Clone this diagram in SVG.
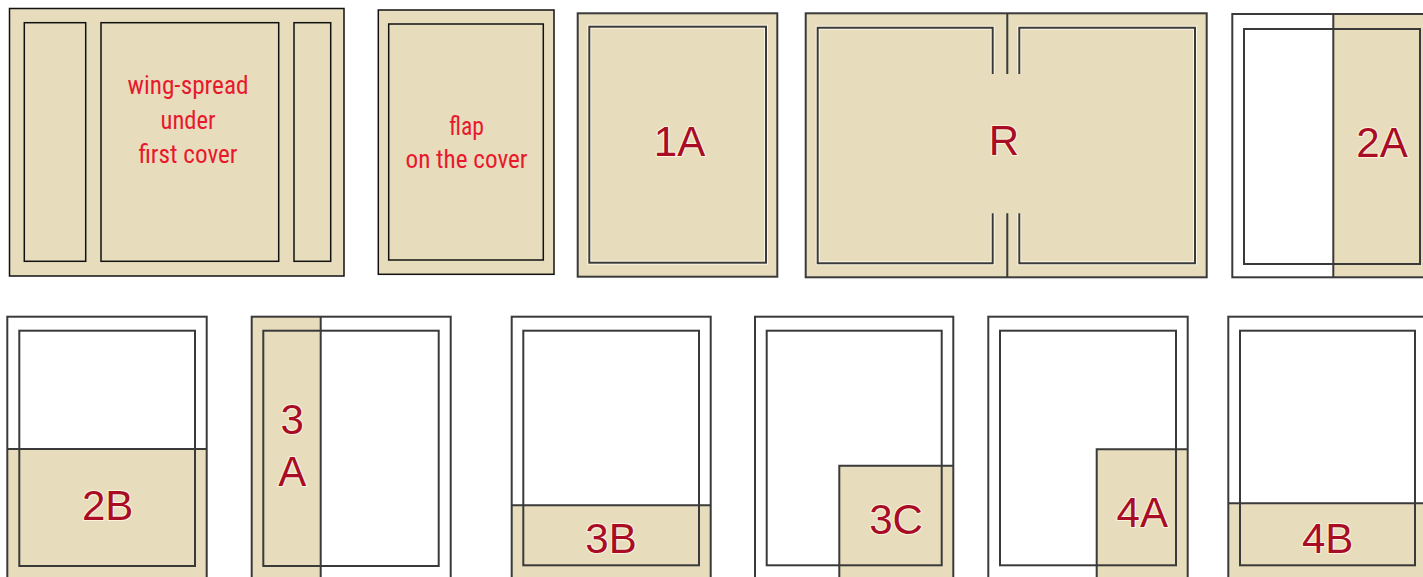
<svg xmlns="http://www.w3.org/2000/svg" width="1423" height="577" viewBox="0 0 1423 577">
<style>
.bg{fill:#ffffff}
.beige{fill:#e7ddbd}
.dk{fill:none;stroke:#111111;stroke-width:1.5}
.halo{fill:none;stroke:#fbf6e4;stroke-width:4}
.ln{fill:none;stroke:#3a3a3a;stroke-width:2}
.red{font-family:"Liberation Sans Narrow","Roboto Condensed","Liberation Sans",sans-serif;font-size:25px;fill:#e8192c;text-anchor:middle}
.lbl{font-family:"Liberation Sans",Arial,sans-serif;font-size:42px;fill:#a80d25;text-anchor:middle;stroke:#fbf3dc;stroke-width:2.2;paint-order:stroke;stroke-linejoin:round}
</style>
<rect class="bg" x="0" y="0" width="1423" height="577"/>

<g id="wing-spread">
<rect class="beige" x="9.5" y="8.5" width="334.5" height="267.5"/>
<rect class="dk" x="9.5" y="8.5" width="334.5" height="267.5"/>
<rect class="dk" x="24.3" y="22.7" width="61.4" height="238.6"/>
<rect class="dk" x="101" y="22.7" width="177.7" height="238.6"/>
<rect class="dk" x="294" y="22.7" width="36.7" height="238.6"/>
<text class="red" x="188" y="94" textLength="121" lengthAdjust="spacingAndGlyphs">wing-spread</text>
<text class="red" x="188" y="128.5" textLength="55" lengthAdjust="spacingAndGlyphs">under</text>
<text class="red" x="188" y="162.5" textLength="99" lengthAdjust="spacingAndGlyphs">first cover</text>
</g>

<g id="flap">
<rect class="beige" x="378.3" y="10" width="175.7" height="264.3"/>
<rect class="dk" x="378.3" y="10" width="175.7" height="264.3"/>
<rect class="dk" x="388.7" y="24" width="154.6" height="236"/>
<text class="red" x="466.5" y="135" textLength="35" lengthAdjust="spacingAndGlyphs">flap</text>
<text class="red" x="466.5" y="168.3" textLength="122" lengthAdjust="spacingAndGlyphs">on the cover</text>
</g>

<g id="p1A">
<rect class="beige" x="577.7" y="13.3" width="199.6" height="263.4"/>
<rect class="halo" x="589.3" y="26.7" width="176.7" height="236"/>
<rect class="ln" x="577.7" y="13.3" width="199.6" height="263.4"/>
<rect class="ln" x="589.3" y="26.7" width="176.7" height="236"/>
<text class="lbl" x="679.5" y="156">1A</text>
</g>

<g id="pR">
<rect class="beige" x="805.7" y="13.3" width="401" height="264"/>
<path class="halo" d="M992.7 74V27.7H817.7V263.3H992.7V213.3M1019.3 74V27.7H1195V263.3H1019.3V213.3"/>
<rect class="ln" x="805.7" y="13.3" width="401" height="264"/>
<path class="ln" d="M992.7 74V27.7H817.7V263.3H992.7V213.3M1019.3 74V27.7H1195V263.3H1019.3V213.3M1007.3 13.3V74M1007.3 213.3V277.3"/>
<text class="lbl" x="1004" y="155">R</text>
</g>

<g id="p2A">
<rect class="beige" x="1333.3" y="14" width="110" height="263.3"/>
<rect class="ln" x="1232.3" y="14" width="210" height="263.3"/>
<rect class="ln" x="1244" y="29" width="176" height="235"/>
<line class="ln" x1="1333.3" y1="14" x2="1333.3" y2="277.3"/>
<text class="lbl" x="1382" y="156.7">2A</text>
</g>

<g id="p2B">
<rect class="beige" x="7.3" y="449" width="199.4" height="140"/>
<rect class="ln" x="7.3" y="316.7" width="199.4" height="270"/>
<rect class="ln" x="19.3" y="330.7" width="175.7" height="235.3"/>
<line class="ln" x1="7.3" y1="449" x2="206.7" y2="449"/>
<text class="lbl" x="107.7" y="520">2B</text>
</g>

<g id="p3A">
<rect class="beige" x="251.7" y="316.7" width="69" height="270"/>
<rect class="ln" x="251.7" y="316.7" width="199" height="270"/>
<rect class="ln" x="263.3" y="330.7" width="175.4" height="235.3"/>
<line class="ln" x1="320.7" y1="316.7" x2="320.7" y2="586.7"/>
<text class="lbl" x="292.3" y="434.3">3</text>
<text class="lbl" x="292.3" y="486">A</text>
</g>

<g id="p3B">
<rect class="beige" x="511.7" y="505.3" width="199" height="80"/>
<rect class="ln" x="511.7" y="316.7" width="199" height="270"/>
<rect class="ln" x="523.3" y="330.7" width="175.7" height="234.6"/>
<line class="ln" x1="511.7" y1="505.3" x2="710.7" y2="505.3"/>
<text class="lbl" x="611" y="553.3">3B</text>
</g>

<g id="p3C">
<rect class="beige" x="839.3" y="465.7" width="114" height="120"/>
<rect class="ln" x="755" y="316.7" width="198.3" height="270"/>
<rect class="ln" x="766.7" y="330.7" width="175" height="234.6"/>
<path class="ln" d="M839.3 586.7V465.7H953.3"/>
<text class="lbl" x="896" y="534">3C</text>
</g>

<g id="p4A">
<rect class="beige" x="1096.7" y="449.3" width="91" height="137"/>
<rect class="ln" x="988.3" y="316.7" width="199.4" height="270"/>
<rect class="ln" x="1000" y="330.7" width="176" height="234.6"/>
<path class="ln" d="M1096.7 586.7V449.3H1187.7"/>
<text class="lbl" x="1142.3" y="526.7">4A</text>
</g>

<g id="p4B">
<rect class="beige" x="1228.3" y="503.3" width="210" height="83"/>
<rect class="ln" x="1228.3" y="316.7" width="210" height="270"/>
<rect class="ln" x="1240" y="330.7" width="175" height="234.6"/>
<line class="ln" x1="1228.3" y1="503.3" x2="1438.3" y2="503.3"/>
<text class="lbl" x="1327.7" y="553.3">4B</text>
</g>

<g id="connectors"></g>
</svg>
